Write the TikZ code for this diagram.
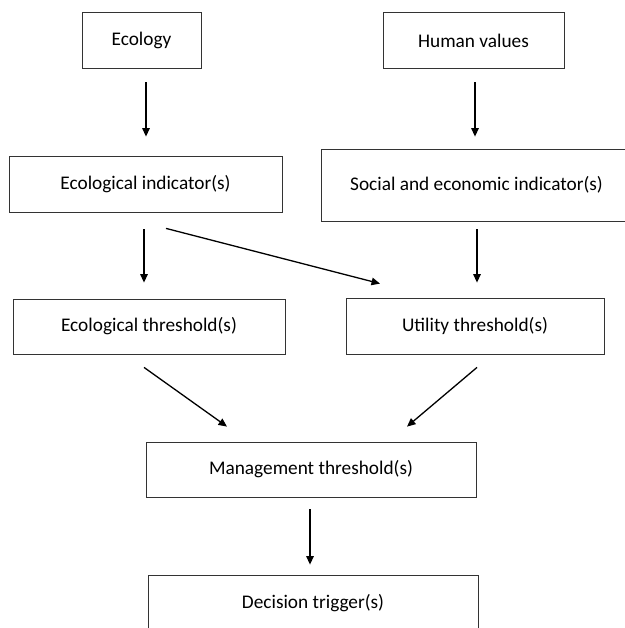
\documentclass[tikz,border=0pt]{standalone}
\usepackage{fontspec}
\setmainfont{Carlito}
\usetikzlibrary{arrows.meta}
\begin{document}
\begin{tikzpicture}[x=1pt,y=-1pt,
  box/.style={draw=black!80,line width=0.8pt,inner sep=0pt,minimum width=#1,font=\fontsize{19.3}{22}\selectfont},
  arr/.style={line width=1.3pt,-{Triangle[length=8.5pt,width=7.5pt]}}]
\useasboundingbox (0,0) rectangle (624,628);
\node[box=119pt,minimum height=56pt] (eco) at (141.5,40.7) {Ecology};
\node[box=181pt,minimum height=56pt] (hum) at (473.5,40.7) {Human values};
\node[box=273pt,minimum height=56pt] (ecoind) at (145.5,184) {Ecological indicator(s)};
\node[box=311pt,minimum height=72pt] (soc) at (476.5,185) {Social and economic indicator(s)};
\node[box=272pt,minimum height=55pt] (ecothr) at (149,326.5) {Ecological threshold(s)};
\node[box=258pt,minimum height=56pt] (util) at (475,326) {Utility threshold(s)};
\node[box=330pt,minimum height=55pt] (mgmt) at (311,469.5) {Management threshold(s)};
\node[box=330pt,minimum height=56pt] (dec) at (313,603) {Decision trigger(s)};
\draw[arr] ([shift={(4.5,13.3)}]eco.south) -- ([shift={(0.5,-19)}]ecoind.north);
\draw[arr] ([shift={(1.5,13.3)}]hum.south) -- ([shift={(-1.5,-12)}]soc.north);
\draw[arr] ([shift={(-1.5,17)}]ecoind.south) -- ([shift={(-5,-16)}]ecothr.north);
\draw[arr] ([shift={(20.5,16)}]ecoind.south) -- ([shift={(-95,-14)}]util.north);
\draw[arr] ([shift={(0.5,8)}]soc.south) -- ([shift={(2,-15)}]util.north);
\draw[arr] ([shift={(-5,13)}]ecothr.south) -- ([shift={(-84,-15)}]mgmt.north);
\draw[arr] ([shift={(2,13)}]util.south) -- ([shift={(96,-15)}]mgmt.north);
\draw[arr] ([shift={(-1,12)}]mgmt.south) -- ([shift={(-3,-10)}]dec.north);
\end{tikzpicture}
\end{document}
